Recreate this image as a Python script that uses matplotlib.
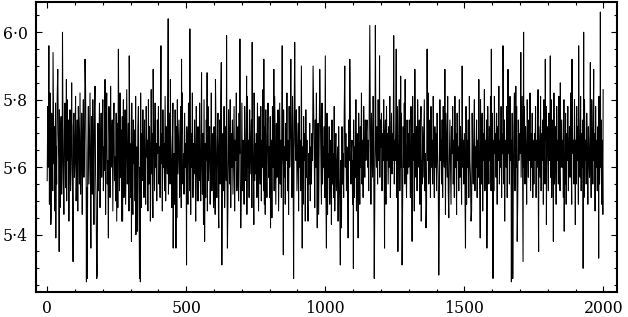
import numpy as np
import pandas as pd
import matplotlib
matplotlib.use('Agg')
import matplotlib.pyplot as plt
from matplotlib.ticker import MultipleLocator, FuncFormatter

# base samples (every 2nd index), value = 5 + v/100
base_vals = [
    56, 78, 60, 73, 49, 82, 64, 45, 76, 67, 53, 84, 61, 72, 47, 79, 66, 55, 81, 51, 70, 62, 77, 48, 68,
    75, 52, 63, 83, 57, 46, 71, 79, 54, 66, 50, 80, 62, 74, 44, 69, 77, 53, 64, 85, 59, 48, 72, 76, 57,
    63, 81, 50, 60, 74, 47, 78, 68, 55, 82, 52, 62, 76, 46, 70, 80, 57, 66, 49, 83, 61, 54, 73, 64, 78,
    55, 68, 82, 47, 60, 75, 52, 80, 64, 43, 77, 70, 58, 50, 83, 62, 73, 53, 67, 79, 48, 64, 76, 57, 70,
    80, 53, 66, 59, 77, 46, 72, 82, 55, 62, 49, 78, 68, 51, 84, 60, 66, 74, 47, 71, 79, 56, 63, 50, 76,
    61, 73, 48, 78, 66, 53, 82, 57, 71, 44, 75, 63, 80, 51, 60, 77, 49, 67, 83, 55, 62, 73, 47, 78, 63,
    51, 67, 79, 55, 46, 74, 61, 71, 50, 81, 57, 66, 41, 72, 78, 53, 63, 60, 82, 48, 70, 56, 77, 62, 51,
    74, 60, 49, 78, 63, 68, 47, 80, 55, 72, 62, 51, 83, 58, 70, 45, 77, 66, 53, 79, 60, 67, 50, 74, 64,
    78, 55, 66, 51, 82, 61, 70, 47, 77, 60, 67, 53, 81, 50, 72, 64, 58, 84, 52, 66, 76, 55, 70, 61, 48,
    67, 79, 53, 64, 49, 77, 60, 72, 45, 80, 58, 66, 74, 51, 62, 78, 48, 70, 82, 55, 64, 52, 76, 60, 67,
    55, 72, 62, 49, 79, 66, 53, 76, 46, 70, 60, 82, 51, 67, 58, 74, 64, 44, 78, 62, 50, 72, 66, 56, 79,
    59, 50, 76, 64, 52, 70, 43, 80, 57, 67, 51, 74, 62, 47, 78, 56, 66, 72, 49, 60, 82, 53, 64, 70, 48,
    72, 57, 46, 79, 61, 51, 68, 76, 45, 64, 74, 55, 80, 50, 66, 60, 70, 53, 78, 48, 62, 72, 56, 68, 58,
    50, 77, 64, 55, 80, 48, 70, 60, 74, 52, 66, 78, 47, 68, 62, 82, 53, 60, 72, 50, 76, 64, 57, 70, 51,
    79, 53, 68, 61, 49, 78, 64, 56, 72, 46, 81, 60, 68, 51, 77, 58, 66, 74, 48, 70, 62, 54, 82, 56, 67,
    58, 70, 51, 79, 64, 47, 75, 62, 55, 78, 50, 68, 60, 83, 53, 64, 72, 46, 77, 62, 51, 70, 79, 57, 66,
    51, 75, 62, 68, 45, 78, 60, 70, 53, 81, 64, 49, 73, 57, 66, 77, 47, 62, 79, 55, 68, 51, 75, 64, 60,
    77, 57, 66, 49, 73, 62, 82, 53, 68, 46, 78, 60, 70, 55, 64, 51, 81, 66, 57, 74, 48, 68, 62, 77, 53,
    64, 73, 47, 78, 60, 68, 53, 81, 55, 66, 49, 75, 62, 70, 44, 77, 57, 68, 51, 80, 64, 55, 73, 50, 66,
    55, 70, 62, 51, 78, 66, 48, 74, 60, 82, 53, 64, 73, 46, 68, 57, 77, 62, 49, 79, 55, 66, 60, 72, 51,
    68, 53, 62, 76, 46, 64, 57, 72, 49, 60, 68, 43, 74, 55, 64, 51, 78, 47, 62, 70, 53, 60, 66, 44, 72,
    57, 49, 68, 62, 42, 72, 55, 64, 51, 76, 46, 60, 70, 53, 66, 57, 48, 74, 62, 51, 78, 55, 64, 68, 49,
    62, 74, 51, 66, 57, 80, 47, 70, 62, 53, 76, 64, 49, 72, 60, 82, 55, 68, 51, 78, 66, 57, 74, 62, 70,
    74, 60, 68, 53, 79, 64, 70, 49, 76, 66, 57, 81, 62, 68, 51, 78, 66, 60, 72, 55, 80, 62, 70, 57, 74,
    66, 76, 53, 70, 62, 80, 57, 68, 74, 49, 78, 62, 70, 55, 72, 60, 81, 51, 66, 76, 58, 70, 62, 79, 55,
    68, 62, 74, 51, 78, 64, 57, 70, 80, 53, 66, 60, 76, 62, 49, 72, 60, 79, 55, 68, 64, 51, 74, 58, 70,
    60, 74, 64, 51, 78, 68, 55, 81, 62, 70, 47, 76, 64, 57, 72, 53, 80, 66, 60, 74, 49, 68, 78, 62, 55,
    72, 57, 68, 80, 53, 64, 76, 49, 70, 62, 82, 55, 66, 74, 51, 78, 60, 68, 55, 81, 64, 51, 72, 60, 70,
    53, 76, 64, 57, 70, 47, 80, 62, 68, 55, 74, 51, 78, 64, 60, 72, 46, 76, 66, 57, 81, 53, 68, 62, 74,
    62, 49, 72, 64, 78, 55, 68, 51, 81, 60, 70, 46, 76, 62, 66, 53, 80, 57, 72, 64, 49, 74, 60, 68, 55,
    70, 55, 64, 78, 49, 68, 60, 74, 51, 81, 62, 57, 72, 47, 76, 64, 55, 70, 80, 53, 66, 60, 74, 51, 68,
    57, 72, 62, 51, 80, 66, 55, 76, 47, 70, 62, 83, 53, 68, 60, 74, 49, 78, 64, 55, 72, 62, 81, 53, 66,
    76, 60, 68, 53, 81, 64, 70, 57, 76, 49, 72, 62, 84, 55, 68, 60, 78, 51, 70, 64, 80, 55, 74, 62, 68,
    60, 78, 51, 70, 64, 74, 55, 81, 62, 68, 49, 76, 66, 57, 72, 82, 53, 68, 60, 78, 64, 51, 74, 62, 70,
    64, 76, 57, 70, 81, 51, 68, 60, 78, 55, 72, 64, 49, 80, 66, 57, 74, 62, 82, 53, 70, 60, 76, 51, 68,
    55, 70, 62, 78, 51, 68, 60, 76, 47, 72, 64, 57, 81, 53, 70, 62, 74, 49, 80, 64, 55, 68, 78, 60, 72,
    66, 53, 76, 62, 70, 57, 80, 51, 68, 74, 60, 82, 55, 66, 72, 49, 78, 62, 68, 55, 81, 64, 53, 72, 60,
    74, 60, 68, 51, 80, 64, 55, 76, 49, 70, 62, 78, 53, 66, 72, 57, 82, 62, 49, 74, 64, 68, 55, 80, 60,
    68, 55, 78, 62, 72, 49, 76, 64, 57, 81, 53, 70, 60, 74, 66, 51, 80, 62, 68, 55, 76, 64, 49, 72, 62,
    57, 74, 64, 51, 80, 66, 55, 76, 62, 70, 47, 78, 60, 68, 53, 72, 64, 81, 55, 66, 60, 74, 49, 68, 72,
]

# the large excursions
spike_idx = [6, 13, 21, 31, 38, 43, 55, 69, 93, 136, 141, 144, 157, 172, 178, 180, 208, 220, 250, 256,
             271, 295, 303, 319, 332, 335, 371, 381, 409, 435, 443, 453, 463, 483, 501, 513, 543, 555,
             566, 575, 605, 617, 626, 628, 645, 648, 693, 696, 717, 737, 743, 779, 781, 803, 815, 845, 849,
             876, 886, 890, 914, 917, 938, 956, 971, 980, 1000, 1004, 1054, 1070, 1082, 1088, 1101, 1118, 1160,
             1176, 1180, 1195, 1213, 1246, 1255, 1261, 1271, 1276, 1287, 1312, 1322, 1345, 1362, 1366, 1408, 1430, 1444,
             1492, 1504, 1524, 1552, 1557, 1581, 1597, 1603, 1639, 1645, 1657, 1669, 1674, 1685, 1690, 1703, 1711, 1713,
             1765, 1767, 1791, 1795, 1809, 1820, 1845, 1859, 1887, 1899, 1911, 1927, 1929, 1953, 1965, 1983, 1989, 1998, 1999]
spike_vals = [96, 43, 94, 39, 89, 35, 100, 86, 32, 92, 26, 27, 36, 84, 27, 28, 86, 39, 44, 95,
              44, 93, 38, 40, 27, 26, 44, 89, 96, 104, 86, 36, 36, 92, 31, 101, 50, 88,
              38, 88, 86, 42, 91, 31, 99, 36, 98, 42, 87, 97, 43, 92, 49, 42, 89, 96, 34,
              92, 27, 97, 90, 36, 44, 90, 42, 89, 93, 36, 31, 90, 39, 92, 30, 39, 102,
              27, 102, 93, 36, 99, 95, 35, 87, 31, 86, 38, 89, 44, 42, 95, 28, 89, 45,
              90, 36, 44, 86, 39, 36, 95, 27, 96, 44, 89, 26, 27, 84, 38, 94, 32, 100,
              83, 35, 92, 43, 93, 38, 85, 41, 92, 43, 96, 30, 100, 91, 89, 33, 106, 46, 83]

base = pd.Series(base_vals, index=np.arange(0, 2000, 2), dtype=float)
spikes = pd.Series(spike_vals, index=spike_idx, dtype=float)
series = spikes.combine_first(base).sort_index()
y = 5 + series.values / 100

fig = plt.figure(figsize=(6.28, 3.17), dpi=100)
ax = fig.add_axes([0.057, 0.079, 0.926, 0.915])
ax.plot(series.index, y, color='black', lw=0.75)

ax.set_xlim(-41, 2050)
ax.set_ylim(5.23, 6.09)
ax.set_xticks([0, 500, 1000, 1500, 2000])
ax.set_yticks([5.4, 5.6, 5.8, 6.0])
ax.xaxis.set_minor_locator(MultipleLocator(100))
ax.yaxis.set_minor_locator(MultipleLocator(0.05))
ax.yaxis.set_major_formatter(FuncFormatter(lambda v, p: ('%.1f' % v).replace('.', '\u00b7')))
ax.tick_params(which='both', direction='in', top=True, right=True, width=0.8,
               labelsize=11.3, labelfontfamily='DejaVu Serif')
ax.tick_params(which='major', length=4)
ax.tick_params(which='minor', length=2)
ax.tick_params(axis='x', pad=6)
ax.tick_params(axis='y', pad=6)
for sp in ax.spines.values():
    sp.set_linewidth(1.5)

fig.savefig('out.png', dpi=100)
